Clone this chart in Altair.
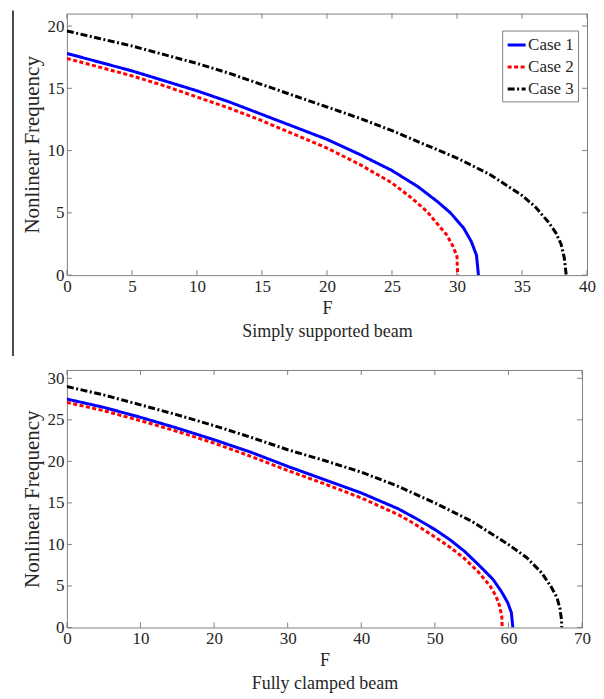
import altair as alt
import pandas as pd

FONT = "Liberation Serif"
TXT = "#262626"
FRAME = "#808080"

CASES = ["Case 1", "Case 2", "Case 3"]
COLORS = ["#0000ff", "#ff0000", "#000000"]
DASHES = [[1, 0], [4, 2.5], [7, 2.5, 2, 2.5]]
WIDTHS = [3, 3, 2.6]

# ---- Simply supported beam ----
ss_c1_F = [0, 2.5, 5, 7.5, 10, 12.5, 15, 17.5, 20, 22.5, 25, 27, 28.5, 29.5, 30.5, 31.1, 31.5, 31.65]
ss_c1_v = [17.8, 17.1, 16.4, 15.6, 14.8, 13.9, 12.9, 11.9, 10.9, 9.7, 8.4, 7.1, 5.9, 5.0, 3.8, 2.7, 1.6, 0]
ss_c2_F = [0, 2.5, 5, 7.5, 10, 12.5, 15, 17.5, 20, 22.5, 25, 26.5, 27.7, 28.5, 29.2, 29.7, 30.0, 30.05]
ss_c2_v = [17.4, 16.7, 16.0, 15.2, 14.3, 13.4, 12.4, 11.3, 10.2, 8.9, 7.4, 6.2, 5.1, 4.1, 3.25, 2.3, 1.5, 0]
ss_c3_F = [0, 2.5, 5, 7.5, 10, 12.5, 15, 17.5, 20, 22.5, 25, 27.5, 30, 32.5, 35, 36, 37, 37.6, 38.0, 38.25, 38.4]
ss_c3_v = [19.6, 19.0, 18.4, 17.7, 17.0, 16.2, 15.3, 14.4, 13.5, 12.6, 11.6, 10.5, 9.4, 8.1, 6.4, 5.5, 4.3, 3.4, 2.5, 1.4, 0]
ss_xticks = [0, 5, 10, 15, 20, 25, 30, 35, 40]
ss_yticks = [0, 5, 10, 15, 20]

# ---- Fully clamped beam ----
fc_c1_F = [0, 5, 10, 15, 20, 25, 30, 35, 40, 45, 47.5, 50, 52, 54, 56, 57.9, 59, 59.9, 60.4, 60.6]
fc_c1_v = [27.5, 26.5, 25.3, 24.0, 22.6, 21.1, 19.4, 17.8, 16.2, 14.3, 13.1, 11.8, 10.6, 9.2, 7.5, 5.8, 4.4, 3.0, 1.8, 0]
fc_c2_F = [0, 5, 10, 15, 20, 25, 30, 35, 40, 45, 47.2, 50, 52, 53.9, 55.8, 57.5, 58.3, 58.8, 59.1, 59.15]
fc_c2_v = [27.1, 26.1, 24.9, 23.6, 22.2, 20.6, 18.9, 17.3, 15.6, 13.6, 12.5, 10.9, 9.7, 8.4, 6.8, 5.0, 3.8, 2.6, 1.3, 0]
fc_c3_F = [0, 5, 10, 15, 20, 25, 30, 35, 40, 45, 50, 55, 60, 62.5, 64.5, 65.8, 66.6, 67.0, 67.2, 67.25]
fc_c3_v = [29.0, 28.0, 26.8, 25.6, 24.3, 22.9, 21.4, 20.1, 18.7, 17.0, 15.0, 12.8, 10.0, 8.4, 6.6, 4.9, 3.6, 2.3, 1.0, 0]
fc_xticks = [0, 10, 20, 30, 40, 50, 60, 70]
fc_yticks = [0, 5, 10, 15, 20, 25, 30]


def panel(series, xmax, ymax, xticks, yticks, w, h, caption, lx, ly, artifact=False):
    rows = []
    for case, (Fs, vs) in zip(CASES, series):
        for f, v in zip(Fs, vs):
            rows.append({"F": f, "freq": v, "case": case})
    df = pd.DataFrame(rows)

    xs = alt.Scale(domain=[0, xmax], nice=False, zero=False)
    ys = alt.Scale(domain=[0, ymax], nice=False, zero=False)
    leg = alt.Legend(title=None, orient="none", legendX=lx, legendY=ly)

    lines = alt.Chart(df).mark_line(clip=True).encode(
        x=alt.X("F:Q", scale=xs, title=["F", caption],
                axis=alt.Axis(values=xticks, titlePadding=5, titleFontSize=18,
                              titleLineHeight=23)),
        y=alt.Y("freq:Q", scale=ys, title="Nonlinear Frequency",
                axis=alt.Axis(values=yticks, titlePadding=4, titleFontSize=21)),
        color=alt.Color("case:N", scale=alt.Scale(domain=CASES, range=COLORS), legend=leg),
        strokeDash=alt.StrokeDash("case:N", scale=alt.Scale(domain=CASES, range=DASHES), legend=leg),
        strokeWidth=alt.StrokeWidth("case:N", scale=alt.Scale(domain=CASES, range=WIDTHS), legend=None),
    )

    xt = pd.DataFrame({"F": xticks})
    yt = pd.DataFrame({"freq": yticks})
    tb = alt.Chart(xt).mark_rule(color=FRAME, strokeWidth=1).encode(
        x=alt.X("F:Q", scale=xs), y=alt.value(h), y2=alt.value(h - 5))
    tt = alt.Chart(xt).mark_rule(color=FRAME, strokeWidth=1).encode(
        x=alt.X("F:Q", scale=xs), y=alt.value(0), y2=alt.value(5))
    tl = alt.Chart(yt).mark_rule(color=FRAME, strokeWidth=1).encode(
        y=alt.Y("freq:Q", scale=ys), x=alt.value(0), x2=alt.value(5))
    tr = alt.Chart(yt).mark_rule(color=FRAME, strokeWidth=1).encode(
        y=alt.Y("freq:Q", scale=ys), x=alt.value(w), x2=alt.value(w - 5))

    layers = [tb, tt, tl, tr, lines]
    if artifact:
        art = alt.Chart(pd.DataFrame({"a": [0]})).mark_rule(color="#111111", strokeWidth=1.5).encode(
            x=alt.value(-54), y=alt.value(-3), y2=alt.value(h + 81))
        layers.append(art)

    return alt.layer(*layers).properties(width=w, height=h)


top = panel([(ss_c1_F, ss_c1_v), (ss_c2_F, ss_c2_v), (ss_c3_F, ss_c3_v)],
            40, 21, ss_xticks, ss_yticks, 521, 262, "Simply supported beam", 436, 17, artifact=True)
bottom = panel([(fc_c1_F, fc_c1_v), (fc_c2_F, fc_c2_v), (fc_c3_F, fc_c3_v)],
               70, 31, fc_xticks, fc_yticks, 516, 258, "Fully clamped beam", 425, 18)

chart = alt.vconcat(top, bottom, spacing=10).properties(
    padding={"left": 3, "top": 0, "right": 0, "bottom": 0}
).configure_view(
    stroke=FRAME, strokeWidth=1
).configure_axis(
    labelFont=FONT, labelFontSize=17, labelColor=TXT,
    titleFont=FONT, titleColor=TXT, titleFontWeight="normal",
    domain=False, ticks=False, grid=False, labelPadding=3, labelFlush=False,
).configure_legend(
    labelFont=FONT, labelFontSize=17, labelColor=TXT,
    symbolType="stroke", symbolSize=324, symbolStrokeWidth=3,
    strokeColor=FRAME, fillColor="white", padding=4, rowPadding=3, labelOffset=1,
    cornerRadius=0,
)

chart.save("out.html", embed_options={"renderer": "svg", "actions": False})
